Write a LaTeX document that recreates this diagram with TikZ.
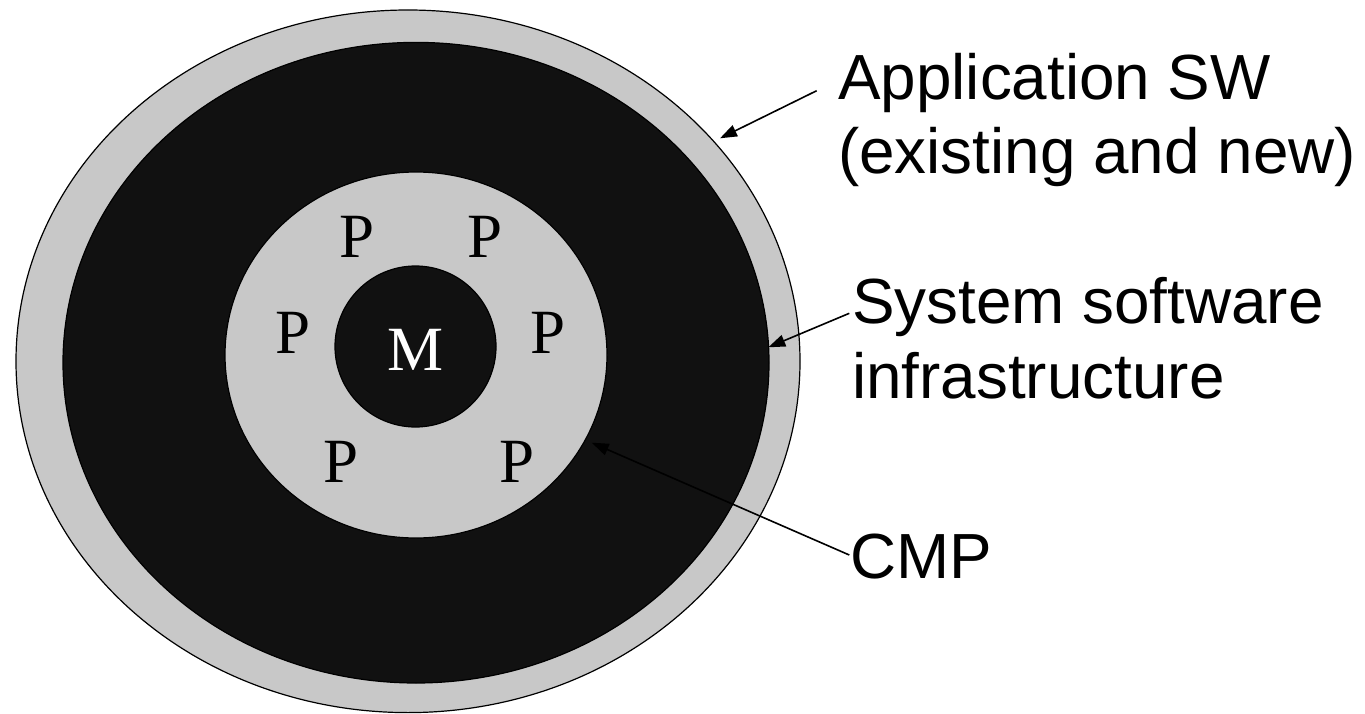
\documentclass[tikz,border=0pt]{standalone}
\usepackage{fontspec}
\setmainfont{Liberation Serif}
\setsansfont{Liberation Sans}
\usetikzlibrary{arrows.meta}
\definecolor{ringgray}{HTML}{C8C8C8}
\definecolor{coreblack}{HTML}{111111}

\begin{document}
\begin{tikzpicture}[x=1pt,y=-1pt,
  ring/.style={draw=black,line width=1.2pt},
  tagtext/.style={font=\sffamily\fontsize{63.8}{76}\selectfont, anchor=base west, inner sep=0pt},
  unitletter/.style={font=\rmfamily\fontsize{63}{76}\selectfont, anchor=base, inner sep=0pt},
  pointer/.style={line width=1.6pt, -{Triangle[length=17pt,width=12pt]}}]

\useasboundingbox (0,0) rectangle (1365,714);
\fill[white] (0,0) rectangle (1365,714);

% nested layers: application, system software, CMP, memory
\filldraw[ring, fill=ringgray]  (408,361.3) ellipse [x radius=392pt, y radius=351.3pt];
\filldraw[ring, fill=coreblack] (416,362.7) ellipse [x radius=353pt, y radius=320.3pt];
\filldraw[ring, fill=ringgray]  (416,355)   ellipse [x radius=191pt, y radius=183pt];
\filldraw[ring, fill=coreblack] (415.5,346.5) circle [radius=80.5pt];

% memory and processors
\node[unitletter, text=white] (mem) at (416,370) {M};
\node[unitletter] (p1) at (357,258) {P};
\node[unitletter] (p2) at (485,258) {P};
\node[unitletter] (p3) at (293,353) {P};
\node[unitletter] (p4) at (548,353) {P};
\node[unitletter] (p5) at (341,482) {P};
\node[unitletter] (p6) at (517,482) {P};

% layer labels
\node[tagtext] (app1) at (838,100) {Application SW};
\node[tagtext] (app2) at (838,174) {(existing and new)};
\node[tagtext] (sys1) at (852,323.3) {System software};
\node[tagtext] (sys2) at (852,398.3) {infrastructure};
\node[tagtext] (cmp)  at (850,578.3) {CMP};

% leader lines
\coordinate (appFrom) at (816.7,90.7);
\coordinate (appTip)  at (720,138.3);
\coordinate (sysFrom) at (849.3,313.3);
\coordinate (sysTip)  at (768.3,347.3);
\coordinate (cmpFrom) at (849.3,555);
\coordinate (cmpTip)  at (591.7,442.7);

\draw[pointer] (appFrom) -- (appTip);
\draw[pointer] (sysFrom) -- (sysTip);
\draw[pointer] (cmpFrom) -- (cmpTip);
\end{tikzpicture}
\end{document}
